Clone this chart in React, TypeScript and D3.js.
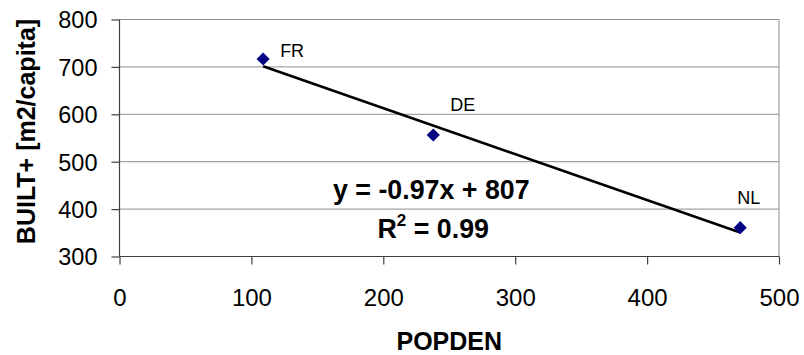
import React, { useRef, useEffect } from "react";
import * as d3 from "d3";

// values
const countries = ["FR", "DE", "NL"];
const popden = [108.9, 237.9, 470.6];
const built = [716.7, 556.3, 360.8];
const xTicks = [0, 100, 200, 300, 400, 500];
const yTicks = [300, 400, 500, 600, 700, 800];
const trendSlope = -0.97;
const trendIntercept = 807;
const rSquared = 0.99;

const FONT = "Arial, 'Liberation Sans', sans-serif";

function App() {
  const ref = useRef<SVGSVGElement>(null);

  useEffect(() => {
    const [width, height] = [804, 355];
    const margin = { top: 19.5, right: 25, bottom: 98.5, left: 119.5 };

    const x = d3
      .scaleLinear()
      .domain([0, 500])
      .range([margin.left, width - margin.right]);
    const y = d3
      .scaleLinear()
      .domain([300, 800])
      .range([height - margin.bottom, margin.top]);

    const svg = d3.select(ref.current);
    svg.selectAll("*").remove();

    // gridlines
    svg
      .append("g")
      .attr("stroke", "#8c8c8c")
      .attr("stroke-width", 1)
      .selectAll("line")
      .data(yTicks.filter((d) => d > 300))
      .join("line")
      .attr("x1", x(0))
      .attr("x2", x(500))
      .attr("y1", (d) => y(d))
      .attr("y2", (d) => y(d));

    // right border
    svg
      .append("line")
      .attr("stroke", "#8c8c8c")
      .attr("x1", x(500))
      .attr("x2", x(500))
      .attr("y1", y(800))
      .attr("y2", y(300));

    // y axis
    const gy = svg
      .append("g")
      .attr("transform", `translate(${x(0)},0)`)
      .call(
        d3
          .axisLeft(y)
          .tickValues(yTicks)
          .tickSize(8)
          .tickPadding(14)
          .tickFormat(d3.format("d"))
      );
    gy.selectAll("path,line").attr("stroke", "#404040").attr("stroke-width", 1.2);
    gy.select(".domain").attr("d", `M0,${y(800)}V${y(300)}`);
    gy.selectAll("text")
      .attr("font-family", FONT)
      .attr("font-size", 23.5)
      .attr("fill", "#000")
      .attr("dy", "0.36em");

    // x axis
    const gx = svg
      .append("g")
      .attr("transform", `translate(0,${y(300)})`)
      .call(
        d3
          .axisBottom(x)
          .tickValues(xTicks)
          .tickSize(8)
          .tickPadding(24)
          .tickFormat(d3.format("d"))
      );
    gx.selectAll("path,line").attr("stroke", "#404040").attr("stroke-width", 1.2);
    gx.select(".domain").attr("d", `M${x(0)},0H${x(500)}`);
    gx.selectAll("text")
      .attr("font-family", FONT)
      .attr("font-size", 24)
      .attr("fill", "#000")
      .attr("dy", "0.71em");

    // trendline
    const [xMin, xMax] = d3.extent(popden) as [number, number];
    svg
      .append("line")
      .attr("stroke", "#000")
      .attr("stroke-width", 2.6)
      .attr("x1", x(xMin))
      .attr("y1", y(trendSlope * xMin + trendIntercept))
      .attr("x2", x(xMax))
      .attr("y2", y(trendSlope * xMax + trendIntercept));

    // points
    const pts = countries.map((c, i) => ({ c, px: popden[i], py: built[i] }));
    svg
      .append("g")
      .selectAll("path")
      .data(pts)
      .join("path")
      .attr("d", d3.symbol(d3.symbolDiamond2, 110)())
      .attr("transform", (d) => `translate(${x(d.px)},${y(d.py)})`)
      .attr("fill", "#000080");

    // point labels
    const labelOffset: Record<string, [number, number]> = {
      FR: [17, -2],
      DE: [17, -24],
      NL: [-3, -24],
    };
    svg
      .append("g")
      .selectAll("text")
      .data(pts)
      .join("text")
      .attr("x", (d) => x(d.px) + labelOffset[d.c][0])
      .attr("y", (d) => y(d.py) + labelOffset[d.c][1])
      .attr("font-family", FONT)
      .attr("font-size", 18)
      .text((d) => d.c);

    // equation
    const eq = svg
      .append("g")
      .attr("font-family", FONT)
      .attr("font-weight", "bold")
      .attr("font-size", 26.8);
    eq.append("text")
      .attr("x", 333)
      .attr("y", 198.5)
      .text(`y = ${trendSlope}x + ${trendIntercept}`);
    const r2 = eq.append("text").attr("x", 377.5).attr("y", 238);
    r2.append("tspan").text("R");
    r2.append("tspan").attr("font-size", 17).attr("dy", -12).text("2");
    r2.append("tspan").attr("dy", 12).text(` = ${rSquared}`);

    // axis titles
    svg
      .append("text")
      .attr("x", (x(0) + x(500)) / 2)
      .attr("y", 350)
      .attr("text-anchor", "middle")
      .attr("font-family", FONT)
      .attr("font-weight", "bold")
      .attr("font-size", 25)
      .text("POPDEN");

    svg
      .append("text")
      .attr("transform", `translate(35,131.5) rotate(-90)`)
      .attr("text-anchor", "middle")
      .attr("font-family", FONT)
      .attr("font-weight", "bold")
      .attr("font-size", 25)
      .text("BUILT+ [m2/capita]");
  }, []);

  return (
    <svg
      ref={ref}
      width={804}
      height={355}
      style={{ position: "absolute", left: 0, top: 0, background: "#fff" }}
    />
  );
}

export default App;
